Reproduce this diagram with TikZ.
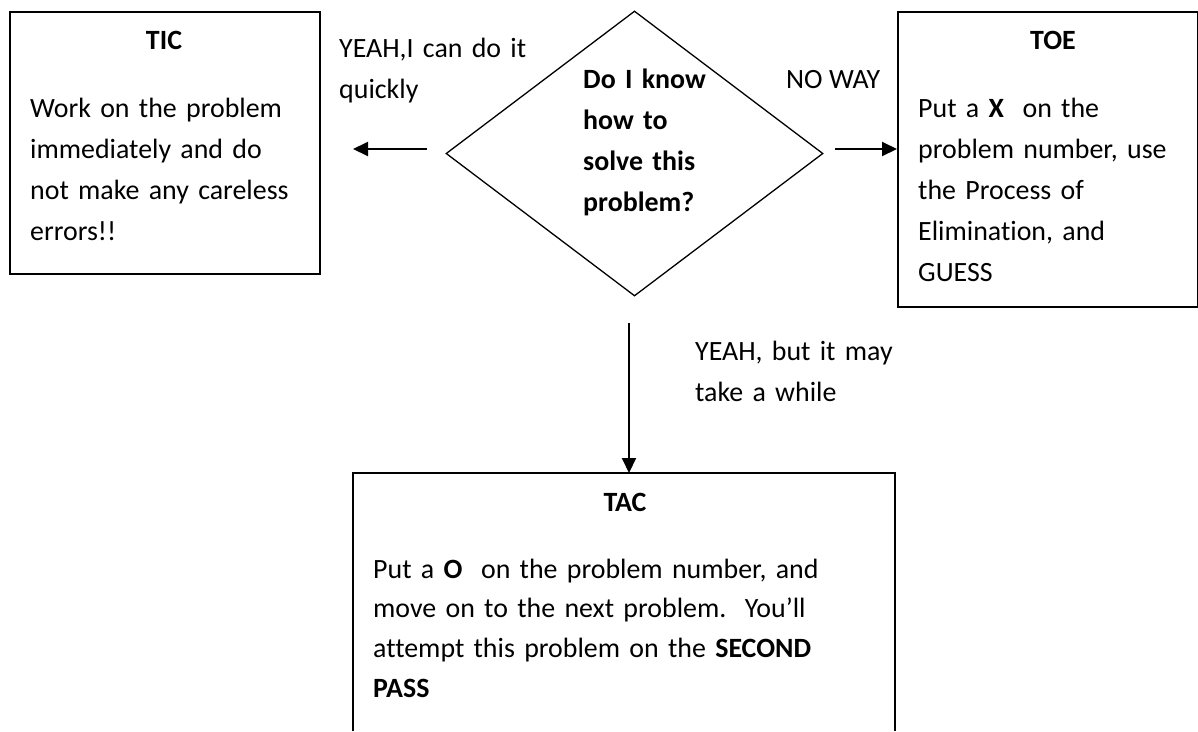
\documentclass[tikz,border=0pt]{standalone}
\usepackage{fontspec}
\setmainfont{Carlito}[Ligatures=NoCommon]
\usetikzlibrary{shapes.geometric,arrows.meta}
\begin{document}
\begin{tikzpicture}[x=1pt,y=-1pt,
  box/.style={draw,line width=2pt,inner sep=0pt,anchor=north west},
  arr/.style={line width=2pt,-{Triangle[length=15pt,width=14pt]}},
  txt/.style={font=\fontsize{27.9}{41}\selectfont,inner sep=0pt},
  body/.style={txt,align=left,anchor=base west,text width=#1},
  bodyb/.style={font=\fontsize{27.9}{41}\selectfont\bfseries,inner sep=0pt,align=left,anchor=base west,text width=#1},
  ttl/.style={font=\fontsize{27.9}{41}\selectfont\bfseries,inner sep=0pt,anchor=base}]
\useasboundingbox (0,0) rectangle (1198,731);
% TIC
\node[box,minimum width=310pt,minimum height=262pt] (tic) at (9,11) {};
\node[ttl] (tict) at (164,49) {TIC};
\node[body=290pt] (ticb) at (30,117) {Work on the problem\\immediately and do\\not make any careless\\errors!!};
% decision
\node[draw,diamond,line width=1.3pt,minimum width=377pt,minimum height=285pt,inner sep=0pt] (dia) at (634.5,153.5) {};
\node[bodyb=150pt] (diat) at (583,88) {Do I know\\how to\\solve this\\problem?};
% TOE
\node[box,minimum width=300pt,minimum height=295pt] (toe) at (897,11) {};
\node[ttl] (toet) at (1053,49) {TOE};
\node[body=270pt] (toeb) at (918,117) {Put a \textbf{X}\ \ on the\\problem number, use\\the Process of\\Elimination, and\\GUESS};
% TAC
\node[inner sep=0pt,minimum width=542pt,minimum height=258pt,anchor=north west] (tac) at (353,473) {};
\draw[line width=2pt] (tac.south west) -- (tac.north west) -- (tac.north east) -- (tac.south east);
\node[ttl] (tact) at (625,511) {TAC};
\node[body=510pt,font=\fontsize{27.9}{39.7}\selectfont] (tacb) at (373,578) {Put a \textbf{O}\ \ on the problem number, and\\move on to the next problem.\ \ You’ll\\attempt this problem on the \textbf{SECOND}\\\textbf{PASS}};
% labels
\node[body=200pt] (lyes) at (339,57) {YEAH,I can do it\\quickly};
\node[txt,anchor=base west] (lno) at (786,88) {NO WAY};
\node[body=220pt] (lmay) at (695,360) {YEAH, but it may\\take a while};
% connectors
\coordinate (la) at (427,149);
\coordinate (lb) at (353,149);
\draw[arr] (la) -- (lb);
\coordinate (ra) at (835,149);
\draw[arr] (ra) -- (ra -| toe.west);
\coordinate (da) at (629,323);
\draw[arr] (da) -- (da |- tac.north);
\end{tikzpicture}
\end{document}
